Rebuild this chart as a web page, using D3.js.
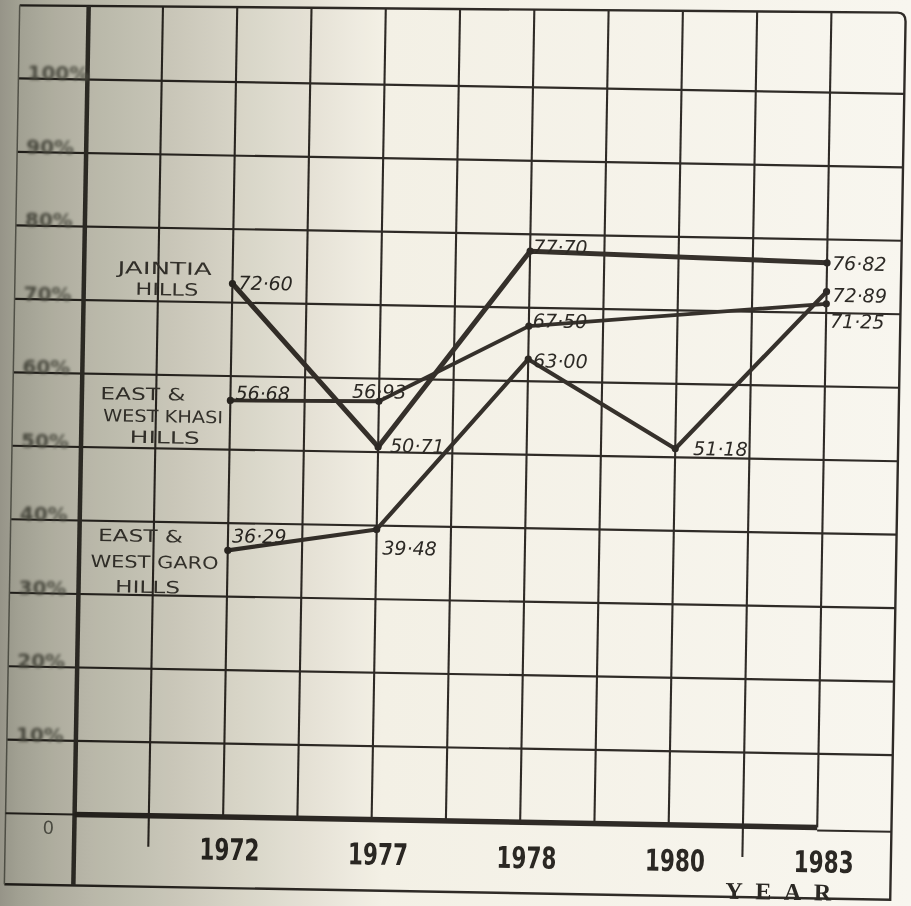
<!DOCTYPE html>
<html>
<head>
<meta charset="utf-8">
<script src="https://cdn.jsdelivr.net/npm/d3@7"></script>
<style>
  html, body { margin: 0; padding: 0; background: #f8f6ef; }
  svg { display: block; }
</style>
</head>
<body>
<svg id="chart" width="911" height="906"></svg>
<script>
// values (percent)
var years = ["1972", "1977", "1978", "1980", "1983"];
var jaintiaHills = [72.60, 50.71, 77.70, null, 76.82];
var khasiHills = [56.68, 56.93, 67.50, null, 71.25];
var garoHills = [36.29, 39.48, 63.00, 51.18, 72.89];
var yTicks = [0, 10, 20, 30, 40, 50, 60, 70, 80, 90, 100];
var jaintiaName = ["JAINTIA", "HILLS"];
var khasiName = ["EAST &", "WEST KHASI", "HILLS"];
var garoName = ["EAST &", "WEST GARO", "HILLS"];
var axisTitle = "YEAR";

// how each series is drawn: line weight, where the hand lettering sits
// (relative to the first point) and where each value was written
var series = [
  { name: jaintiaName, values: jaintiaHills, width: 5,
    nameAt: [[-115, -8, 94], [-97, 13, 63]],
    labelAt: [[6, 6], [12, 5], [3, 2], null, [5, 7]] },
  { name: khasiName, values: khasiHills, width: 3.8,
    nameAt: [[-130, 1, 85], [-127, 23, 120], [-100, 44, 70]],
    labelAt: [[5, -1], [-27, -3], [4, 1], null, [4, 24]] },
  { name: garoName, values: garoHills, width: 4.2,
    nameAt: [[-130, -7, 85], [-137, 19, 128], [-112, 44, 65]],
    labelAt: [[4, -8], [6, 25], [5, 8], [18, 6], [6, 10]] }
];
// year labels sit a little unevenly on the sheet
var yearDrop = [864, 866, 867, 867, 866];

var ink = "#2f2b27";
var left = 12, bottom = 892;

var svg = d3.select("#chart");
var defs = svg.append("defs");

// the scan has a grey shadow along the binding on the left
var shade = defs.append("linearGradient").attr("id", "shade")
  .attr("x1", 0).attr("x2", 1).attr("y1", 0).attr("y2", 0);
[[0, "#9a9a91"], [0.02, "#a6a69c"], [0.06, "#b4b4aa"], [0.11, "#c0c0b6"],
 [0.18, "#cdccc3"], [0.26, "#dddcd4"], [0.34, "#eceae4"], [0.42, "#faf9f5"], [1, "#ffffff"]]
  .forEach(function(s){
    shade.append("stop").attr("offset", s[0]).attr("stop-color", s[1]);
  });

defs.append("filter").attr("id", "smudge")
  .attr("x", "-20%").attr("y", "-40%").attr("width", "140%").attr("height", "180%")
  .append("feGaussianBlur").attr("stdDeviation", 1.4);

svg.append("rect").attr("width", 911).attr("height", 906).attr("fill", "#f8f6ef");

// the whole sheet sits a little crooked on the scanner
var g = svg.append("g").attr("transform", "rotate(1 455 450)");

var col = d3.scaleLinear().domain([0, 11]).range([81, 898]);
var x = d3.scalePoint().domain(years).range([col(2), col(10)]);
var y = d3.scaleLinear().domain([0, 100]).range([821, 86]);

var topLeft = 13, topRight = 5;
var topY = function(px){ return topLeft + (topRight - topLeft) * (px - left) / (col(11) - left); };

// horizontal rules
g.selectAll("line.hgrid")
  .data(yTicks.filter(function(d){ return d > 0; }))
  .join("line")
  .attr("class", "hgrid")
  .attr("x1", left).attr("x2", col(11))
  .attr("y1", function(d){ return y(d); }).attr("y2", function(d){ return y(d); })
  .attr("stroke", ink).attr("stroke-width", 2.2);

// vertical rules, two of them run on below the base line
g.selectAll("line.vgrid")
  .data(d3.range(1, 11))
  .join("line")
  .attr("class", "vgrid")
  .attr("x1", function(d){ return col(d); }).attr("x2", function(d){ return col(d); })
  .attr("y1", function(d){ return topY(col(d)); })
  .attr("y2", function(d){ return (d === 1 || d === 9) ? y(0) + 31 : y(0); })
  .attr("stroke", ink).attr("stroke-width", 2.1);

// frame
g.append("path")
  .attr("d", "M" + left + "," + topLeft + "L" + (col(11) - 8) + "," + topRight +
    "Q" + col(11) + "," + topRight + " " + col(11) + "," + (topRight + 9) +
    "L" + col(11) + "," + bottom + "L" + left + "," + bottom)
  .attr("fill", "none").attr("stroke", ink).attr("stroke-width", 2.4);
g.append("line")
  .attr("x1", left).attr("x2", left).attr("y1", topLeft).attr("y2", bottom)
  .attr("stroke", "#7c7c74").attr("stroke-width", 1.5);

// y axis and base line
g.append("line")
  .attr("x1", col(0)).attr("x2", col(0)).attr("y1", topY(col(0))).attr("y2", bottom)
  .attr("stroke", "#3a3732").attr("stroke-width", 4.5);
g.append("line")
  .attr("x1", left).attr("x2", col(0)).attr("y1", y(0)).attr("y2", y(0))
  .attr("stroke", ink).attr("stroke-width", 2);
g.append("line")
  .attr("x1", col(0)).attr("x2", col(10)).attr("y1", y(0)).attr("y2", y(0))
  .attr("stroke", ink).attr("stroke-width", 5.5);
g.append("line")
  .attr("x1", col(10)).attr("x2", col(11)).attr("y1", y(0) + 3).attr("y2", y(0) + 3)
  .attr("stroke", ink).attr("stroke-width", 2);

// y labels, smudged in the scan
g.selectAll("text.ytick")
  .data(yTicks.filter(function(d){ return d > 0; }))
  .join("text")
  .attr("class", "ytick")
  .attr("x", 21).attr("y", function(d){ return y(d) + 1; })
  .attr("font-family", "DejaVu Sans").attr("font-weight", "bold").attr("font-size", 20)
  .attr("fill", "#6a6a60").attr("filter", "url(#smudge)")
  .text(function(d){ return d + "%"; });
g.append("text")
  .attr("x", 55).attr("y", y(0) + 20).attr("text-anchor", "middle")
  .attr("font-family", "DejaVu Sans").attr("font-size", 18)
  .attr("fill", "#6a6a62")
  .text("0");

// year labels
g.selectAll("text.year")
  .data(years)
  .join("text")
  .attr("class", "year")
  .attr("x", function(d){ return x(d) + 7 - 30; })
  .attr("y", function(d, i){ return yearDrop[i]; })
  .attr("textLength", 60).attr("lengthAdjust", "spacingAndGlyphs")
  .attr("font-family", "'DejaVu Sans Condensed', 'DejaVu Sans', sans-serif")
  .attr("font-weight", "bold").attr("font-size", 30)
  .attr("fill", "#2b2824")
  .text(function(d){ return d; });

g.append("text")
  .attr("x", 733).attr("y", 894)
  .attr("textLength", 106).attr("lengthAdjust", "spacing")
  .attr("font-family", "'Liberation Serif', serif").attr("font-weight", "bold").attr("font-size", 24)
  .attr("fill", "#2b2824")
  .text(axisTitle);

// series
var line = d3.line()
  .x(function(d){ return x(d.year); })
  .y(function(d){ return y(d.v); });

series.forEach(function(s){
  var pts = years.map(function(yr, i){
    return { year: yr, v: s.values[i], at: s.labelAt[i] };
  }).filter(function(d){ return d.v != null; });

  g.append("path")
    .datum(pts)
    .attr("d", line)
    .attr("fill", "none").attr("stroke", "#36312c")
    .attr("stroke-width", s.width)
    .attr("stroke-linejoin", "round").attr("stroke-linecap", "round");

  g.selectAll(null)
    .data(pts)
    .join("circle")
    .attr("cx", function(d){ return x(d.year); })
    .attr("cy", function(d){ return y(d.v); })
    .attr("r", 3.6)
    .attr("fill", "#2d2925");

  g.selectAll(null)
    .data(pts)
    .join("text")
    .attr("x", function(d){ return x(d.year) + d.at[0]; })
    .attr("y", function(d){ return y(d.v) + d.at[1]; })
    .attr("font-family", "DejaVu Sans").attr("font-style", "italic").attr("font-size", 19)
    .attr("fill", "#2d2a26")
    .text(function(d){ return d.v.toFixed(2).replace(".", "\u00b7"); });

  var x0 = x(years[0]), y0 = y(s.values[0]);
  g.selectAll(null)
    .data(s.name)
    .join("text")
    .attr("x", function(d, i){ return x0 + s.nameAt[i][0]; })
    .attr("y", function(d, i){ return y0 + s.nameAt[i][1]; })
    .attr("textLength", function(d, i){ return s.nameAt[i][2]; })
    .attr("lengthAdjust", "spacingAndGlyphs")
    .attr("font-family", "DejaVu Sans").attr("font-size", 17)
    .attr("fill", "#3e3b36")
    .text(function(d){ return d; });
});

// scanner shadow laid over everything
svg.append("rect")
  .attr("width", 911).attr("height", 906)
  .attr("fill", "url(#shade)")
  .style("mix-blend-mode", "multiply")
  .style("pointer-events", "none");
</script>
</body>
</html>
